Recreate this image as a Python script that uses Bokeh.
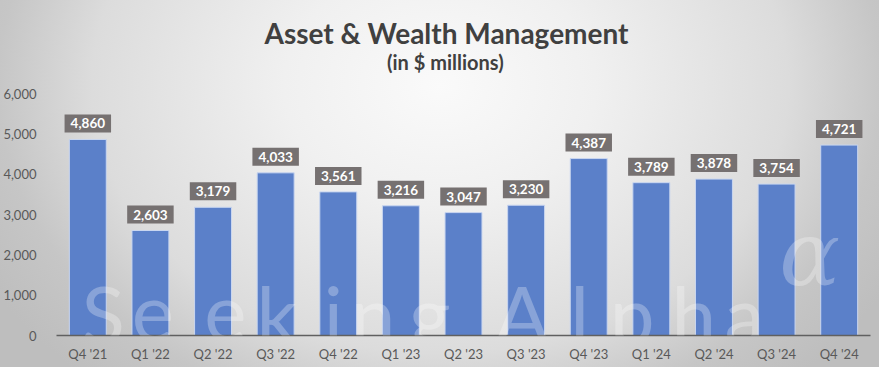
from bokeh.plotting import figure
from bokeh.models import ColumnDataSource, FactorRange, Label, NumeralTickFormatter, FixedTicker
from bokeh.core.properties import value
from bokeh.embed import file_html
from bokeh.resources import INLINE

quarters = ["Q4 '21", "Q1 '22", "Q2 '22", "Q3 '22", "Q4 '22", "Q1 '23", "Q2 '23",
            "Q3 '23", "Q4 '23", "Q1 '24", "Q2 '24", "Q3 '24", "Q4 '24"]
revenue = [4860, 2603, 3179, 4033, 3561, 3216, 3047, 3230, 4387, 3789, 3878, 3754, 4721]
y_ticks = [0, 1000, 2000, 3000, 4000, 5000, 6000]

title_text = "Asset & Wealth Management"
subtitle_text = "(in $ millions)"

# watermark letters (decorative) and their centre positions along the category axis
wm_letters = ["S", "e", "e", "k", "i", "n", "g", "A", "l", "p", "h", "a"]
wm_pos = [0.745, 1.538, 2.695, 3.52, 4.423, 5.057, 5.961, 7.435, 8.355, 9.195, 10.178, 10.987]

src = ColumnDataSource(dict(q=quarters, v=revenue, lbl=[f"{v:,}" for v in revenue]))

# the frame extends above the 6,000 tick so the title block can live inside it
p = figure(width=879, height=367, output_backend="svg", toolbar_location=None,
           x_range=FactorRange(*quarters, range_padding=0), y_range=(0, 8182),
           min_border_left=50, min_border_right=9, min_border_top=5, min_border_bottom=32)
p.styles = {"background": "radial-gradient(520px 400px at 440px 85px, #fafafa 0%, #f0f0f0 30%, #dcdcdc 67%, #c6c6c6 85%, #bebebe 100%)"}
p.border_fill_color = None
p.background_fill_color = None
p.outline_line_color = None
p.grid.grid_line_color = None

p.vbar(x="q", top="v", width=0.59, source=src, fill_color="#5B80C9",
       line_color="#c9d6f0", line_width=1)

p.text(x="q", y="v", text="lbl", source=src, text_align="center", text_baseline="bottom",
       y_offset=-7, text_color="white", text_font=value("Lato"), text_font_style="bold",
       text_font_size="13.5px", background_fill_color="#767171",
       padding=dict(left=6, right=6, top=4, bottom=4))

fnt = "Lato"
p.yaxis.ticker = FixedTicker(ticks=y_ticks)
p.yaxis.formatter = NumeralTickFormatter(format="0,0")
p.yaxis.axis_line_color = None
p.yaxis.major_tick_line_color = None
p.yaxis.minor_tick_line_color = None
p.yaxis.major_label_standoff = 14
p.xaxis.major_tick_line_color = None
p.xaxis.axis_line_color = "#606060"
p.xaxis.axis_line_width = 1.5
p.xaxis.major_label_standoff = 4
for ax in (p.xaxis, p.yaxis):
    ax.major_label_text_font = fnt
    ax.major_label_text_font_size = "13px"
    ax.major_label_text_color = "#595959"

# title & subtitle
p.title = None
p.add_layout(Label(x=6.23, y=7510, text=title_text, text_align="center", text_baseline="middle",
                   text_font=fnt, text_font_style="bold", text_font_size="28px", text_color="#404040"))
p.add_layout(Label(x=6.21, y=6770, text=subtitle_text, text_align="center", text_baseline="middle",
                   text_font=fnt, text_font_style="bold", text_font_size="20px", text_color="#404040"))

# watermark
for ch, xpos in zip(wm_letters, wm_pos):
    p.add_layout(Label(x=xpos, y=570, text=ch, text_align="center", text_baseline="alphabetic",
                       text_font=fnt, text_font_size="80px", text_color="white", text_alpha=0.28))
p.add_layout(Label(x=12.03, y=2033, text="α", text_align="center", text_baseline="middle",
                   text_font="DejaVu Serif", text_font_style="italic", text_font_size="90px",
                   text_color="white", text_alpha=0.28))

open("out.html", "w").write(file_html(p, INLINE))
